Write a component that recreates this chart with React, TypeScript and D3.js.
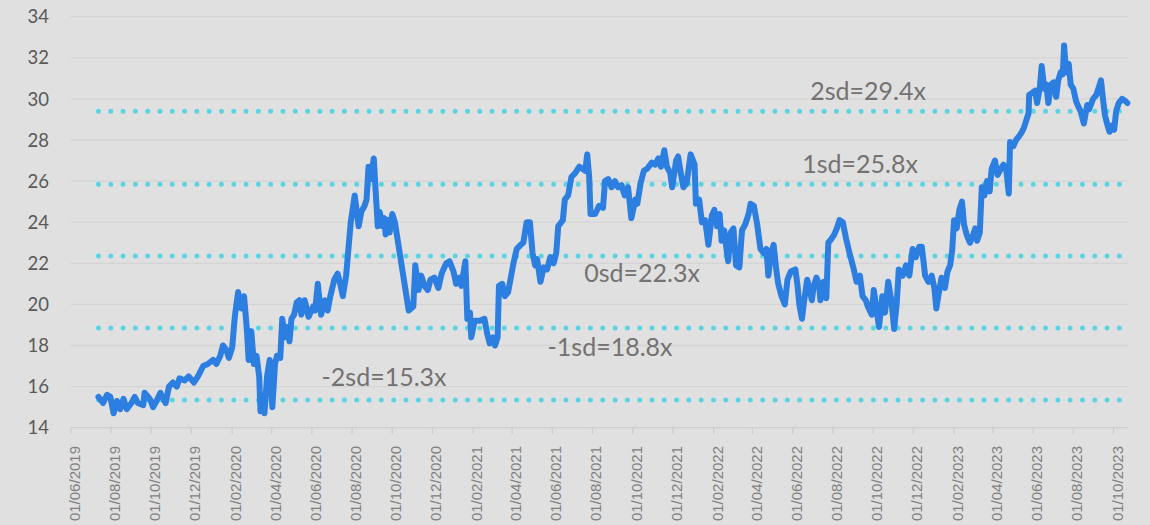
import { useEffect, useRef } from 'react';
import * as d3 from 'd3';

// P/E multiple (dd/mm/yyyy axis, values in x)
const series: [string, number][] = [
  ["2019-07-13", 15.5], ["2019-07-20", 15.2], ["2019-07-26", 15.6], ["2019-07-31", 15.5],
  ["2019-08-05", 14.7], ["2019-08-10", 15.3], ["2019-08-15", 14.9], ["2019-08-20", 15.4], ["2019-08-25", 14.9],
  ["2019-09-01", 15.2], ["2019-09-06", 15.5], ["2019-09-11", 15.2], ["2019-09-19", 15.1], ["2019-09-21", 15.7], ["2019-09-29", 15.4],
  ["2019-10-04", 15.0], ["2019-10-09", 15.3], ["2019-10-15", 15.7], ["2019-10-23", 15.2], ["2019-10-28", 16.0],
  ["2019-11-03", 16.2], ["2019-11-09", 16.0], ["2019-11-13", 16.4], ["2019-11-21", 16.3], ["2019-11-27", 16.5],
  ["2019-12-05", 16.2], ["2019-12-11", 16.5], ["2019-12-19", 17.0], ["2019-12-26", 17.1],
  ["2020-01-03", 17.3], ["2020-01-08", 17.1], ["2020-01-14", 17.5], ["2020-01-18", 18.0], ["2020-01-23", 17.8], ["2020-01-27", 17.4],
  ["2020-02-01", 17.9], ["2020-02-05", 19.4], ["2020-02-10", 20.6], ["2020-02-15", 19.8], ["2020-02-19", 20.4], ["2020-02-23", 18.9], ["2020-02-26", 17.3],
  ["2020-03-01", 18.7], ["2020-03-05", 17.1], ["2020-03-09", 17.5], ["2020-03-13", 16.5], ["2020-03-15", 14.8], ["2020-03-19", 15.5], ["2020-03-21", 14.7], ["2020-03-25", 16.5], ["2020-03-29", 17.3],
  ["2020-04-02", 15.0], ["2020-04-06", 17.1], ["2020-04-09", 17.5], ["2020-04-14", 17.4], ["2020-04-17", 19.3], ["2020-04-21", 18.4], ["2020-04-24", 18.9], ["2020-04-28", 18.2],
  ["2020-05-01", 19.3], ["2020-05-05", 19.5], ["2020-05-09", 20.1], ["2020-05-13", 20.2], ["2020-05-16", 19.5], ["2020-05-21", 20.2], ["2020-05-27", 19.4],
  ["2020-06-03", 19.9], ["2020-06-06", 19.7], ["2020-06-10", 21.0], ["2020-06-15", 19.5], ["2020-06-21", 20.2], ["2020-06-25", 19.7], ["2020-06-29", 20.4],
  ["2020-07-05", 21.2], ["2020-07-10", 21.5], ["2020-07-14", 21.0], ["2020-07-18", 20.4], ["2020-07-23", 21.4], ["2020-07-30", 24.0],
  ["2020-08-05", 25.3], ["2020-08-11", 23.8], ["2020-08-15", 24.5], ["2020-08-20", 24.8], ["2020-08-23", 25.1], ["2020-08-26", 26.7], ["2020-08-29", 26.1],
  ["2020-09-03", 27.1], ["2020-09-06", 25.4], ["2020-09-09", 23.8], ["2020-09-12", 24.5], ["2020-09-16", 23.8], ["2020-09-19", 24.2], ["2020-09-21", 23.4], ["2020-09-25", 24.1], ["2020-09-27", 23.5],
  ["2020-10-01", 24.4], ["2020-10-05", 24.0], ["2020-10-26", 19.7],
  ["2020-11-02", 19.9], ["2020-11-05", 21.9], ["2020-11-10", 20.7], ["2020-11-14", 21.4], ["2020-11-19", 20.9], ["2020-11-24", 20.7], ["2020-11-28", 21.2],
  ["2020-12-04", 21.3], ["2020-12-10", 20.8], ["2020-12-15", 21.5], ["2020-12-22", 22.0], ["2020-12-27", 22.1],
  ["2021-01-02", 21.6], ["2021-01-06", 21.0], ["2021-01-11", 21.3], ["2021-01-14", 20.9], ["2021-01-20", 22.1], ["2021-01-23", 19.3], ["2021-01-27", 19.6], ["2021-01-29", 18.4],
  ["2021-02-03", 19.2], ["2021-02-11", 19.2], ["2021-02-18", 19.3], ["2021-02-22", 18.6], ["2021-02-26", 18.1],
  ["2021-03-03", 18.4], ["2021-03-06", 18.0], ["2021-03-10", 18.4], ["2021-03-12", 20.9], ["2021-03-17", 21.0], ["2021-03-21", 20.4], ["2021-03-26", 20.6],
  ["2021-04-03", 22.0], ["2021-04-08", 22.7], ["2021-04-14", 22.9], ["2021-04-18", 23.0], ["2021-04-23", 24.0], ["2021-04-28", 24.0],
  ["2021-05-02", 22.5], ["2021-05-06", 21.9], ["2021-05-09", 22.2], ["2021-05-14", 21.1], ["2021-05-19", 21.8], ["2021-05-24", 21.7], ["2021-05-29", 22.3],
  ["2021-06-03", 22.0], ["2021-06-07", 22.5], ["2021-06-10", 23.8], ["2021-06-17", 24.1], ["2021-06-20", 25.1], ["2021-06-25", 25.3], ["2021-06-30", 26.2],
  ["2021-07-06", 26.4], ["2021-07-12", 26.7], ["2021-07-17", 26.6], ["2021-07-21", 26.5], ["2021-07-24", 27.3], ["2021-07-27", 26.2], ["2021-07-29", 24.4],
  ["2021-08-05", 24.4], ["2021-08-11", 24.8], ["2021-08-17", 24.7], ["2021-08-20", 26.0], ["2021-08-25", 26.1], ["2021-08-30", 25.7],
  ["2021-09-04", 26.0], ["2021-09-09", 25.7], ["2021-09-14", 25.8], ["2021-09-19", 25.3], ["2021-09-24", 25.7], ["2021-09-29", 24.2],
  ["2021-10-05", 25.1], ["2021-10-08", 24.9], ["2021-10-13", 25.9], ["2021-10-18", 26.5], ["2021-10-23", 26.6], ["2021-10-30", 26.9],
  ["2021-11-04", 26.8], ["2021-11-09", 27.1], ["2021-11-13", 26.7], ["2021-11-18", 27.5], ["2021-11-22", 26.7], ["2021-11-27", 26.4], ["2021-11-30", 25.7],
  ["2021-12-06", 27.0], ["2021-12-09", 27.2], ["2021-12-13", 26.4], ["2021-12-17", 25.7], ["2021-12-22", 25.9], ["2021-12-28", 27.3],
  ["2022-01-03", 26.8], ["2022-01-05", 24.9], ["2022-01-10", 25.1], ["2022-01-14", 24.0], ["2022-01-19", 24.1], ["2022-01-24", 22.9], ["2022-01-29", 24.3],
  ["2022-02-02", 24.6], ["2022-02-06", 23.8], ["2022-02-10", 24.4], ["2022-02-13", 23.1], ["2022-02-17", 23.6], ["2022-02-20", 22.8], ["2022-02-23", 22.1], ["2022-02-27", 23.5],
  ["2022-03-03", 23.7], ["2022-03-07", 21.9], ["2022-03-12", 21.8], ["2022-03-16", 23.6], ["2022-03-21", 23.9], ["2022-03-26", 24.4], ["2022-03-29", 24.9],
  ["2022-04-03", 24.8], ["2022-04-08", 23.9], ["2022-04-13", 22.7], ["2022-04-18", 22.5], ["2022-04-22", 22.7], ["2022-04-25", 21.4], ["2022-04-29", 22.5],
  ["2022-05-03", 22.9], ["2022-05-07", 21.7], ["2022-05-10", 21.0], ["2022-05-15", 20.4], ["2022-05-20", 20.0], ["2022-05-24", 21.2], ["2022-05-29", 21.6],
  ["2022-06-05", 21.7], ["2022-06-08", 21.0], ["2022-06-11", 20.0], ["2022-06-15", 19.3], ["2022-06-18", 20.1], ["2022-06-23", 21.2], ["2022-06-27", 20.7], ["2022-06-30", 20.2],
  ["2022-07-03", 20.9], ["2022-07-07", 21.3], ["2022-07-11", 21.0], ["2022-07-13", 20.2], ["2022-07-18", 21.1], ["2022-07-22", 20.3], ["2022-07-25", 23.0], ["2022-07-30", 23.2],
  ["2022-08-03", 23.4], ["2022-08-07", 23.7], ["2022-08-11", 24.1], ["2022-08-16", 24.0], ["2022-08-21", 23.2], ["2022-08-27", 22.4],
  ["2022-09-01", 21.8], ["2022-09-06", 21.1], ["2022-09-11", 21.4], ["2022-09-15", 20.4], ["2022-09-20", 20.2], ["2022-09-23", 19.9], ["2022-09-29", 19.5],
  ["2022-10-02", 20.7], ["2022-10-06", 19.8], ["2022-10-10", 18.9], ["2022-10-15", 20.4], ["2022-10-19", 19.6], ["2022-10-24", 21.1], ["2022-10-29", 20.1],
  ["2022-11-02", 18.8], ["2022-11-06", 20.1], ["2022-11-09", 21.7], ["2022-11-15", 21.4], ["2022-11-20", 21.9], ["2022-11-25", 21.4], ["2022-11-30", 22.7],
  ["2022-12-05", 22.3], ["2022-12-10", 22.8], ["2022-12-14", 22.8], ["2022-12-19", 21.4], ["2022-12-24", 21.1], ["2022-12-29", 21.4],
  ["2023-01-02", 20.8], ["2023-01-05", 19.8], ["2023-01-10", 20.8], ["2023-01-13", 21.3], ["2023-01-18", 20.8], ["2023-01-22", 21.6], ["2023-01-26", 21.9], ["2023-01-29", 22.6],
  ["2023-02-01", 24.1], ["2023-02-05", 23.7], ["2023-02-09", 24.6], ["2023-02-13", 25.0], ["2023-02-16", 23.9], ["2023-02-20", 23.4], ["2023-02-25", 23.0],
  ["2023-03-01", 23.3], ["2023-03-05", 23.7], ["2023-03-08", 23.1], ["2023-03-12", 23.5], ["2023-03-15", 25.7], ["2023-03-19", 25.3], ["2023-03-23", 26.0], ["2023-03-27", 25.5], ["2023-03-30", 26.6],
  ["2023-04-04", 27.0], ["2023-04-08", 26.3], ["2023-04-13", 26.6], ["2023-04-17", 26.8], ["2023-04-21", 26.6], ["2023-04-25", 25.4], ["2023-04-27", 27.9],
  ["2023-05-02", 27.7], ["2023-05-06", 28.0], ["2023-05-11", 28.2], ["2023-05-15", 28.4], ["2023-05-18", 28.6], ["2023-05-21", 28.9], ["2023-05-25", 29.3], ["2023-05-26", 30.2], ["2023-05-31", 30.3],
  ["2023-06-04", 30.4], ["2023-06-07", 29.8], ["2023-06-11", 30.5], ["2023-06-14", 31.6], ["2023-06-18", 30.5], ["2023-06-21", 30.7], ["2023-06-24", 29.8], ["2023-06-28", 30.7],
  ["2023-07-02", 30.8], ["2023-07-06", 30.1], ["2023-07-09", 30.9], ["2023-07-13", 31.3], ["2023-07-16", 31.2], ["2023-07-18", 32.6], ["2023-07-21", 31.3], ["2023-07-25", 31.7], ["2023-07-28", 30.7],
  ["2023-08-01", 30.5], ["2023-08-05", 29.9], ["2023-08-09", 29.6], ["2023-08-12", 29.4], ["2023-08-17", 28.8], ["2023-08-22", 29.7], ["2023-08-25", 29.5], ["2023-08-31", 30.0],
  ["2023-09-05", 30.2], ["2023-09-08", 30.5], ["2023-09-12", 30.9], ["2023-09-15", 30.0], ["2023-09-18", 29.2], ["2023-09-22", 28.7], ["2023-09-25", 28.4], ["2023-09-28", 28.7],
  ["2023-10-02", 28.5], ["2023-10-05", 29.4], ["2023-10-09", 29.8], ["2023-10-14", 30.0], ["2023-10-19", 29.9], ["2023-10-22", 29.8],
];

// mean +/- standard deviation bands
const bandLevels = [29.4, 25.85, 22.35, 18.85, 15.35];
const bandLabels = ["2sd=29.4x", "1sd=25.8x", "0sd=22.3x", "-1sd=18.8x", "-2sd=15.3x"];

const yTicks = [14, 16, 18, 20, 22, 24, 26, 28, 30, 32, 34];

// where each band label sits (centre x in px, baseline y in value units)
const labelPlacement = [
  { cx: 868, base: 29.95 },
  { cx: 860, base: 26.4 },
  { cx: 642, base: 21.1 },
  { cx: 610, base: 17.5 },
  { cx: 384, base: 16.05 },
];

const W = 1150;
const H = 525;

export default function App() {
  const svgRef = useRef<SVGSVGElement>(null);

  useEffect(() => {
    if (!svgRef.current) return;
    const root = d3.select(svgRef.current);
    root.selectAll("*").remove();

    const parse = d3.timeParse("%Y-%m-%d");
    const data = series.map(([d, v]) => ({ date: parse(d) as Date, value: v }));

    const x = d3.scaleTime()
      .domain([new Date(2019, 5, 1), new Date(2023, 9, 23)])
      .range([70.8, 1128]);
    const y = d3.scaleLinear().domain([14, 34]).range([427.7, 16.7]);

    root.append("rect").attr("width", W).attr("height", H).attr("fill", "#e0e0e0");

    // gridlines
    root.append("g")
      .selectAll("line")
      .data(yTicks)
      .enter()
      .append("line")
      .attr("x1", x.range()[0])
      .attr("x2", x.range()[1])
      .attr("y1", d => y(d))
      .attr("y2", d => y(d))
      .attr("stroke", d => (d === 14 ? "#cdcdcd" : "#d4d4d4"))
      .attr("stroke-width", 1.3);

    // y labels
    root.append("g")
      .selectAll("text")
      .data(yTicks)
      .enter()
      .append("text")
      .attr("x", 49)
      .attr("y", d => y(d))
      .attr("dy", "0.36em")
      .attr("text-anchor", "end")
      .attr("font-family", "Lato, 'Open Sans', sans-serif")
      .attr("font-size", 18.5)
      .attr("fill", "#595959")
      .text(d => d);

    // x ticks + labels
    const xTicks = d3.timeMonth.range(new Date(2019, 5, 1), new Date(2023, 10, 1), 2);
    const fmt = d3.timeFormat("%d/%m/%Y");
    const xg = root.append("g");
    xg.selectAll("line")
      .data(xTicks)
      .enter()
      .append("line")
      .attr("x1", d => x(d))
      .attr("x2", d => x(d))
      .attr("y1", 428)
      .attr("y2", 434)
      .attr("stroke", "#cdcdcd")
      .attr("stroke-width", 1.3);
    xg.selectAll("text")
      .data(xTicks)
      .enter()
      .append("text")
      .attr("transform", d => `translate(${x(d) + 9},446) rotate(-90)`)
      .attr("text-anchor", "end")
      .attr("font-family", "'Liberation Sans', Arial, sans-serif")
      .attr("font-size", 15)
      .attr("fill", "#808080")
      .text(d => fmt(d));

    // sd bands as round-dot lines
    const first = data[0].date;
    const last = data[data.length - 1].date;
    root.append("g")
      .selectAll("line")
      .data(bandLevels)
      .enter()
      .append("line")
      .attr("x1", x(first))
      .attr("x2", x(last))
      .attr("y1", d => y(d))
      .attr("y2", d => y(d))
      .attr("stroke", "#5dd4e2")
      .attr("stroke-width", 5)
      .attr("stroke-linecap", "round")
      .attr("stroke-dasharray", "0 12.3");

    // multiple line
    const line = d3.line<{ date: Date; value: number }>()
      .x(d => x(d.date))
      .y(d => y(d.value));
    root.append("path")
      .datum(data)
      .attr("d", line)
      .attr("fill", "none")
      .attr("stroke", "#2c7ee0")
      .attr("stroke-width", 6)
      .attr("stroke-linejoin", "round")
      .attr("stroke-linecap", "round");

    // band labels
    root.append("g")
      .selectAll("text")
      .data(bandLabels)
      .enter()
      .append("text")
      .attr("x", (_, i) => labelPlacement[i].cx)
      .attr("y", (_, i) => y(labelPlacement[i].base))
      .attr("text-anchor", "middle")
      .attr("font-family", "Lato, 'Open Sans', sans-serif")
      .attr("font-size", 25)
      .attr("fill", "#767171")
      .text(d => d);
  }, []);

  return (
    <>
      <style>{`body{margin:0}`}</style>
      <svg ref={svgRef} width={W} height={H} style={{ display: 'block' }} />
    </>
  );
}
